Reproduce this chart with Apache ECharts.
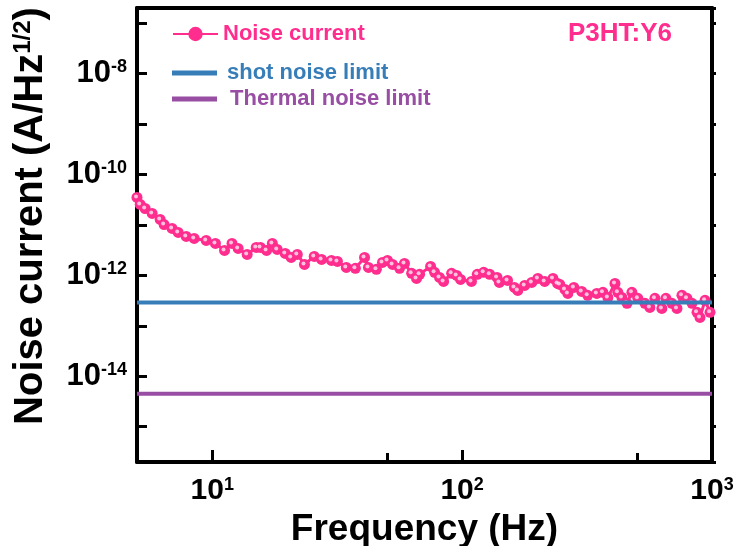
<!DOCTYPE html>
<html>
<head>
<meta charset="utf-8">
<script src="https://cdn.jsdelivr.net/npm/echarts@6/dist/echarts.min.js"></script>
<style>
  html, body { margin: 0; padding: 0; background: #fff; }
  #chart { width: 737px; height: 546px; }
</style>
</head>
<body>
<div id="chart"></div>
<script>
// noise spectrum
const noiseFreq = [5.0, 5.15, 5.39, 5.75, 6.19, 6.42, 6.91, 7.31, 7.87, 8.47, 9.46, 10.3, 11.2, 12.0, 12.7, 13.8,
  15.0, 15.6, 16.5, 17.4, 18.2, 19.6, 20.7, 21.9, 23.4, 25.6, 27.4, 30.0, 31.7, 34.4, 37.4, 40.7, 42.2, 45.4,
  48.0, 50.3, 52.7, 56.2, 58.8, 62.8, 65.7, 67.6, 74.8, 77.6, 81.2, 84.3, 90.8, 95.1, 98.6, 109, 115, 122, 129,
  138, 141, 152, 162, 167, 178, 190, 201, 214, 231, 241, 246, 258, 265, 280, 301, 318, 346, 366, 383, 409, 420,
  436, 457, 478, 505, 539, 564, 591, 630, 654, 691, 724, 758, 794, 832, 871, 895, 938, 982];
const noiseCurrent = [3.51e-11, 2.55e-11, 2.12e-11, 1.69e-11, 1.29e-11, 1.02e-11, 8.53e-12, 7.10e-12, 5.91e-12,
  5.40e-12, 4.93e-12, 4.30e-12, 3.13e-12, 4.30e-12, 3.43e-12, 2.61e-12, 3.58e-12, 3.58e-12, 3.13e-12, 4.30e-12,
  3.27e-12, 2.73e-12, 2.27e-12, 2.61e-12, 1.65e-12, 2.38e-12, 2.07e-12, 1.98e-12, 1.89e-12, 1.44e-12, 1.38e-12,
  2.27e-12, 1.44e-12, 1.32e-12, 1.81e-12, 1.98e-12, 1.65e-12, 1.38e-12, 1.73e-12, 1.10e-12, 8.72e-13, 1.05e-12,
  1.51e-12, 1.15e-12, 9.12e-13, 7.60e-13, 1.10e-12, 1.00e-12, 8.33e-13, 7.60e-13, 1.05e-12, 1.15e-12, 1.05e-12,
  9.12e-13, 7.26e-13, 7.96e-13, 5.78e-13, 5.04e-13, 6.34e-13, 7.26e-13, 8.72e-13, 7.60e-13, 8.72e-13, 6.95e-13,
  6.64e-13, 5.28e-13, 4.40e-13, 5.78e-13, 4.82e-13, 4.02e-13, 4.40e-13, 4.61e-13, 3.66e-13, 6.95e-13, 4.61e-13,
  3.66e-13, 2.79e-13, 4.61e-13, 3.51e-13, 2.79e-13, 2.32e-13, 3.51e-13, 2.22e-13, 3.51e-13, 2.79e-13, 2.22e-13,
  4.02e-13, 3.51e-13, 2.79e-13, 1.85e-13, 1.47e-13, 3.20e-13, 1.85e-13];

// flat limits
const limitFreq = [5, 1000];
const shotLimit = 2.9e-13;
const thermalLimit = 4.5e-15;

const xRange = [5, 1000];
const yRange = [2e-16, 2e-7];

const PINK = '#ff2d8e';
const BLUE = '#377eb8';
const PURPLE = '#984ea3';
const FONT = '"Liberation Sans", Arial, sans-serif';

const chart = echarts.init(document.getElementById('chart'));

const isPow = v => Math.abs(Math.log10(v) - Math.round(Math.log10(v))) < 1e-6;

const supRich = (big, small) => ({
  b: { fontSize: big, fontWeight: 'bold', fontFamily: FONT, color: '#000' },
  s: { fontSize: small, fontWeight: 'bold', fontFamily: FONT, color: '#000', verticalAlign: 'top' }
});

const noiseData = noiseFreq.map((f, i) => [f, noiseCurrent[i]]);

const legendBase = {
  left: 172,
  orient: 'vertical',
  itemWidth: 45,
  itemGap: 0,
  selectedMode: false,
  padding: 0
};

chart.setOption({
  animation: false,
  backgroundColor: '#fff',
  title: {
    text: 'P3HT:Y6',
    left: 563,
    top: 16,
    textStyle: { color: PINK, fontSize: 26, fontWeight: 'bold', fontFamily: FONT }
  },
  legend: [
    Object.assign({}, legendBase, {
      top: 23, itemHeight: 18, data: ['Noise current'],
      textStyle: { color: PINK, fontSize: 22, fontWeight: 'bold', fontFamily: FONT }
    }),
    Object.assign({}, legendBase, {
      top: 62, itemHeight: 5, data: [{ name: 'shot noise limit', icon: 'rect' }],
      textStyle: { color: BLUE, fontSize: 22, fontWeight: 'bold', fontFamily: FONT, padding: [0, 0, 0, 5] }
    }),
    Object.assign({}, legendBase, {
      top: 88, itemHeight: 5, data: [{ name: 'Thermal noise limit', icon: 'rect' }],
      textStyle: { color: PURPLE, fontSize: 22, fontWeight: 'bold', fontFamily: FONT, padding: [0, 0, 0, 8] }
    })
  ],
  grid: { left: 137, right: 25, top: 8, bottom: 84, containLabel: false, outerBoundsMode: 'none' },
  xAxis: [
    {
      type: 'log', logBase: 10, min: xRange[0], max: xRange[1],
      name: 'Frequency (Hz)', nameLocation: 'middle', nameGap: 42,
      nameTextStyle: { fontSize: 37, fontWeight: 'bold', fontFamily: FONT, color: '#000' },
      axisLine: { lineStyle: { color: '#000', width: 4 } },
      axisTick: { inside: true, length: 12, lineStyle: { color: '#000', width: 3 } },
      minorTick: { show: false },
      splitLine: { show: false },
      axisLabel: {
        margin: 14,
        formatter: v => isPow(v) ? '{b|10}{s|' + Math.round(Math.log10(v)) + '}' : '',
        rich: supRich(30, 18)
      }
    },
    {
      // minor ticks at 5, 50, 500 Hz (log10 space, counted from min)
      type: 'value', position: 'bottom',
      min: Math.log10(xRange[0]), max: Math.log10(xRange[1]), interval: 1,
      axisLine: { show: false },
      axisTick: { inside: true, length: 9, lineStyle: { color: '#000', width: 3 } },
      axisLabel: { show: false },
      splitLine: { show: false }
    },
    {
      type: 'log', position: 'top', min: xRange[0], max: xRange[1],
      axisLine: { lineStyle: { color: '#000', width: 4 } },
      axisTick: { show: false },
      axisLabel: { show: false },
      splitLine: { show: false }
    }
  ],
  yAxis: [
    {
      type: 'log', logBase: 10, min: yRange[0], max: yRange[1],
      name: '{t|Noise current (A/Hz}{s|1/2}{t|)}',
      nameLocation: 'middle', nameGap: 86,
      nameTextStyle: {
        padding: [0, 0, 0, 38],
        rich: {
          t: { fontSize: 40, fontWeight: 'bold', fontFamily: FONT, color: '#000' },
          s: { fontSize: 24, fontWeight: 'bold', fontFamily: FONT, color: '#000', verticalAlign: 'top' }
        }
      },
      axisLine: { lineStyle: { color: '#000', width: 4 } },
      axisTick: { inside: true, length: 10, lineStyle: { color: '#000', width: 3 } },
      splitLine: { show: false },
      axisLabel: {
        margin: 10,
        formatter: v => {
          if (!isPow(v)) return '';
          const e = Math.round(Math.log10(v));
          return e % 2 === 0 ? '{b|10}{s|' + e + '}' : '';
        },
        rich: supRich(31, 18)
      }
    },
    {
      type: 'log', logBase: 10, position: 'right', min: yRange[0], max: yRange[1],
      axisLine: { lineStyle: { color: '#000', width: 4 } },
      axisTick: { inside: false, length: 4, lineStyle: { color: '#000', width: 3 } },
      axisLabel: { show: false },
      splitLine: { show: false }
    }
  ],
  series: [
    {
      name: 'Noise current',
      type: 'line',
      data: noiseData,
      symbol: 'circle',
      symbolSize: 11,
      lineStyle: { color: PINK, width: 3 },
      itemStyle: { color: PINK, borderWidth: 0 },
      z: 2
    },
    {
      // white highlight on each ball
      type: 'scatter',
      data: noiseData,
      symbol: 'circle',
      symbolSize: 4,
      symbolOffset: [-1, -1],
      itemStyle: { color: '#ffe6f2' },
      silent: true,
      z: 2
    },
    {
      name: 'shot noise limit',
      type: 'line',
      data: limitFreq.map(f => [f, shotLimit]),
      symbol: 'none',
      lineStyle: { color: BLUE, width: 4 },
      itemStyle: { color: BLUE },
      z: 3
    },
    {
      name: 'Thermal noise limit',
      type: 'line',
      data: limitFreq.map(f => [f, thermalLimit]),
      symbol: 'none',
      lineStyle: { color: PURPLE, width: 4 },
      itemStyle: { color: PURPLE },
      z: 3
    }
  ]
});
</script>
</body>
</html>
